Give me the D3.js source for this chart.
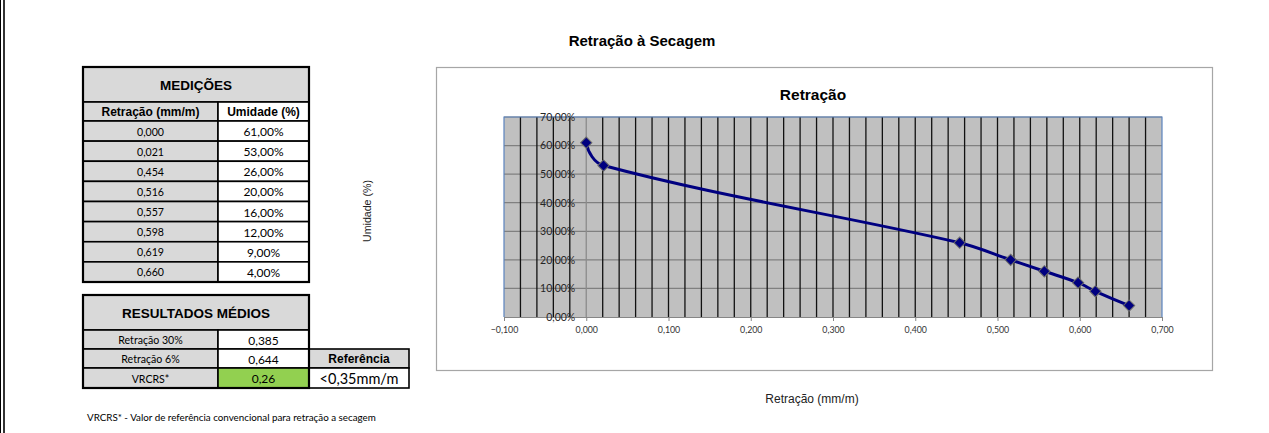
<!DOCTYPE html>
<html>
<head>
<meta charset="utf-8">
<script src="https://cdn.jsdelivr.net/npm/d3@7"></script>
<style>
  body { margin: 0; background: #fff; }
  svg { display: block; }
</style>
</head>
<body>
<svg id="page" width="1269" height="433"></svg>
<script>
// measurements
const retracao = [0.000, 0.021, 0.454, 0.516, 0.557, 0.598, 0.619, 0.660];
const umidade = [61, 53, 26, 20, 16, 12, 9, 4];

// averaged results
const resultLabels = ["Retração 30%", "Retração 6%", "VRCRS*"];
const resultValues = ["0,385", "0,644", "0,26"];
const referencia = "<0,35mm/m";

// axis ticks
const xTicks = [-0.1, 0, 0.1, 0.2, 0.3, 0.4, 0.5, 0.6, 0.7];
const yTicks = [0, 10, 20, 30, 40, 50, 60, 70];

const svg = d3.select("#page");
const arial = "Liberation Sans, Arial, sans-serif";
const calibri = "Lato, Carlito, Calibri, sans-serif";

// page frame on the left
svg.append("line").attr("x1", 0.5).attr("x2", 0.5).attr("y1", 0).attr("y2", 433)
  .attr("stroke", "#000").attr("stroke-width", 1);
svg.append("line").attr("x1", 4).attr("x2", 4).attr("y1", 0).attr("y2", 433)
  .attr("stroke", "#000").attr("stroke-width", 1.6);

const fmt3 = v => d3.format(".3f")(v).replace(".", ",");
const fmtPct = v => d3.format(".2f")(v).replace(".", ",") + "%";

// ---------- tables ----------
const tx = 83, tMid = 218, tRight = 309;
const t = svg.append("g");

function cell(x, y, w, h, fill, txt, font, size, weight) {
  t.append("rect").attr("x", x).attr("y", y).attr("width", w).attr("height", h)
    .attr("fill", fill).attr("stroke", "#000").attr("stroke-width", 1.6);
  t.append("text").attr("x", x + w / 2).attr("y", y + h / 2 + 0.5)
    .attr("text-anchor", "middle").attr("dominant-baseline", "central")
    .attr("font-family", font).attr("font-size", size).attr("font-weight", weight || "normal")
    .attr("fill", "#000").text(txt);
}

// MEDIÇÕES
cell(tx, 67, tRight - tx, 35, "#d9d9d9", "MEDIÇÕES", arial, 13.5, "bold");
cell(tx, 102, tMid - tx, 19, "#d9d9d9", "Retração (mm/m)", arial, 12, "bold");
cell(tMid, 102, tRight - tMid, 19, "#fff", "Umidade (%)", arial, 12, "bold");
const rowY = d3.scaleBand().domain(d3.range(retracao.length)).range([121, 282]);
retracao.forEach((r, i) => {
  cell(tx, rowY(i), tMid - tx, rowY.bandwidth(), "#d9d9d9", fmt3(r), calibri, 10.6);
  cell(tMid, rowY(i), tRight - tMid, rowY.bandwidth(), "#fff", fmtPct(umidade[i]), calibri, 12);
});
t.append("rect").attr("x", tx).attr("y", 67).attr("width", tRight - tx).attr("height", 215)
  .attr("fill", "none").attr("stroke", "#000").attr("stroke-width", 2.2);

// RESULTADOS MÉDIOS
cell(tx, 295, tRight - tx, 35, "#d9d9d9", "RESULTADOS MÉDIOS", arial, 13.5, "bold");
const resY = [330, 349, 368], resH = [19, 19, 20];
resultLabels.forEach((l, i) => {
  cell(tx, resY[i], tMid - tx, resH[i], "#d9d9d9", l, calibri, 10.6);
  cell(tMid, resY[i], tRight - tMid, resH[i], i === 2 ? "#92d050" : "#fff", resultValues[i], calibri, 12);
});
cell(tRight, 349, 100, 19, "#d9d9d9", "Referência", arial, 12, "bold");
cell(tRight, 368, 100, 20, "#fff", referencia, calibri, 14.5);
t.append("rect").attr("x", tx).attr("y", 295).attr("width", tRight - tx).attr("height", 93)
  .attr("fill", "none").attr("stroke", "#000").attr("stroke-width", 2.2);

svg.append("text").attr("x", 87).attr("y", 421)
  .attr("font-family", calibri).attr("font-size", 9.8).attr("fill", "#000")
  .text("VRCRS* - Valor de referência convencional para retração a secagem");

// ---------- chart ----------
svg.append("text").attr("x", 642).attr("y", 46).attr("text-anchor", "middle")
  .attr("font-family", arial).attr("font-size", 15).attr("font-weight", "bold")
  .text("Retração à Secagem");

svg.append("text").attr("transform", "translate(371,211) rotate(-90)")
  .attr("text-anchor", "middle").attr("font-family", arial).attr("font-size", 10.6)
  .attr("fill", "#222").text("Umidade (%)");

svg.append("text").attr("x", 812).attr("y", 403).attr("text-anchor", "middle")
  .attr("font-family", arial).attr("font-size", 12).attr("fill", "#222")
  .text("Retração (mm/m)");

svg.append("rect").attr("x", 436.5).attr("y", 67.5).attr("width", 776).attr("height", 303)
  .attr("fill", "#fff").attr("stroke", "#a6a6a6").attr("stroke-width", 1.2);

svg.append("text").attr("x", 813).attr("y", 100).attr("text-anchor", "middle")
  .attr("font-family", arial).attr("font-size", 15.5).attr("font-weight", "bold")
  .text("Retração");

const x = d3.scaleLinear().domain([-0.1, 0.7]).range([504, 1162]);
const y = d3.scaleLinear().domain([0, 70]).range([317, 117]);

const plot = svg.append("g");
plot.append("rect").attr("x", x(-0.1)).attr("y", y(70))
  .attr("width", x(0.7) - x(-0.1)).attr("height", y(0) - y(70)).attr("fill", "#c0c0c0");

// horizontal gridlines
plot.selectAll(".hg").data(yTicks.slice(1)).join("line")
  .attr("x1", x(-0.1)).attr("x2", x(0.7))
  .attr("y1", d => y(d)).attr("y2", d => y(d))
  .attr("stroke", "#808080").attr("stroke-width", 1.2);

// vertical gridlines every 0.02
const vGrid = d3.range(1, 40).map(i => -0.1 + i * 0.02);
plot.selectAll(".vg").data(vGrid).join("line")
  .attr("x1", d => x(d)).attr("x2", d => x(d))
  .attr("y1", y(70)).attr("y2", y(0))
  .attr("stroke", d => Math.abs(d) < 1e-9 ? "#8c8c8c" : "#111")
  .attr("stroke-width", 1.3);

// plot border (left, top, right)
plot.append("path")
  .attr("d", `M${x(-0.1)},${y(0)}V${y(70)}H${x(0.7)}V${y(0)}`)
  .attr("fill", "none").attr("stroke", "#5b84bf").attr("stroke-width", 1.2);

// x axis
const xAxis = svg.append("g").attr("transform", `translate(0,${y(0)})`)
  .call(d3.axisBottom(x).tickValues(xTicks).tickFormat(fmt3).tickSize(4).tickPadding(6));
xAxis.select(".domain").attr("stroke", "#868686");
xAxis.selectAll(".tick line").attr("stroke", "#868686");
xAxis.selectAll("text").attr("font-family", calibri).attr("font-size", 8.8).attr("fill", "#333");

// y axis crossing at x = 0
const yAxis = svg.append("g").attr("transform", `translate(${x(0)},0)`)
  .call(d3.axisLeft(y).tickValues(yTicks).tickFormat(fmtPct).tickSize(0).tickPadding(11));
yAxis.select(".domain").remove();
yAxis.selectAll("text").attr("font-family", calibri).attr("font-size", 10.5).attr("fill", "#262626");

// series, smoothed like a spreadsheet line (bezier with chord-scaled tangents)
const pts = retracao.map((r, i) => [x(r), y(umidade[i])]);
function unit(a, b) {
  const dx = b[0] - a[0], dy = b[1] - a[1], l = Math.hypot(dx, dy);
  return [dx / l, dy / l];
}
const n = pts.length;
const tan = pts.map((p, i) => (i > 0 && i < n - 1) ? unit(pts[i - 1], pts[i + 1]) : null);
{
  const u0 = unit(pts[0], pts[1]);
  tan[0] = unit([0, 0], [2 * u0[0] - tan[1][0], 2 * u0[1] - tan[1][1]]);
  const un = unit(pts[n - 2], pts[n - 1]);
  tan[n - 1] = unit([0, 0], [2 * un[0] - tan[n - 2][0], 2 * un[1] - tan[n - 2][1]]);
}
const path = d3.path();
path.moveTo(pts[0][0], pts[0][1]);
for (let i = 0; i < n - 1; i++) {
  const a = pts[i], b = pts[i + 1];
  const L = Math.hypot(b[0] - a[0], b[1] - a[1]) / 3;
  path.bezierCurveTo(a[0] + tan[i][0] * L, a[1] + tan[i][1] * L,
    b[0] - tan[i + 1][0] * L, b[1] - tan[i + 1][1] * L, b[0], b[1]);
}
svg.append("path").attr("d", path.toString()).attr("fill", "none")
  .attr("stroke", "#000080").attr("stroke-width", 3);

const diamond = d3.symbol().type(d3.symbolSquare).size(64);
svg.selectAll(".mk").data(pts).join("path")
  .attr("d", diamond)
  .attr("transform", d => `translate(${d[0]},${d[1]}) rotate(45)`)
  .attr("fill", "#000080").attr("stroke", "#6b6b6b").attr("stroke-width", 1);
</script>
</body>
</html>
